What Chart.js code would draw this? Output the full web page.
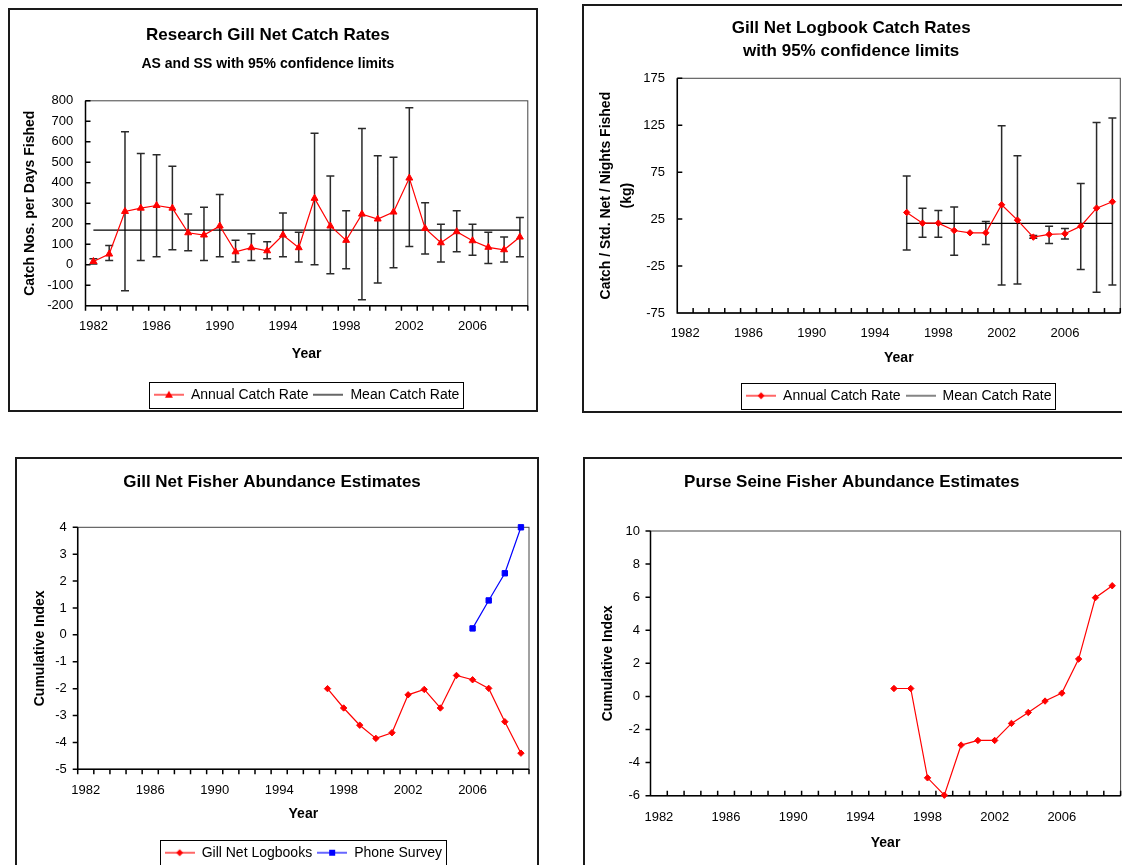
<!DOCTYPE html>
<html>
<head>
<meta charset="utf-8">
<script src="https://cdn.jsdelivr.net/npm/chart.js@4.4.1/dist/chart.umd.min.js"></script>
<style>
  body { margin: 0; background: #fff; width: 1122px; height: 865px; overflow: hidden; position: relative; }
  .panel { position: absolute; }
  .panel canvas { position: absolute; left: 0; top: 0; }
  .frame { position: absolute; left: 0; top: 0; right: 0; bottom: 0; border: 2px solid #1a1a1a; box-sizing: border-box; pointer-events: none; }
</style>
</head>
<body>
<div class="panel" style="left:8px;top:8px;width:530px;height:404px"><canvas id="c1" width="530" height="404"></canvas><div class="frame"></div></div>
<div class="panel" style="left:582px;top:4px;width:553px;height:409px"><canvas id="c2" width="553" height="409"></canvas><div class="frame"></div></div>
<div class="panel" style="left:15px;top:457px;width:524px;height:423px"><canvas id="c3" width="524" height="423"></canvas><div class="frame"></div></div>
<div class="panel" style="left:583px;top:457px;width:550px;height:423px"><canvas id="c4" width="550" height="423"></canvas><div class="frame"></div></div>
<script>
// category axis, shared by all four panels
const years = ['1982', '1983', '1984', '1985', '1986', '1987', '1988', '1989', '1990', '1991',
  '1992', '1993', '1994', '1995', '1996', '1997', '1998', '1999', '2000', '2001',
  '2002', '2003', '2004', '2005', '2006', '2007', '2008', '2009'];

// research gill net catch rates (all years)
const p1Rate = [16, 52, 260, 276, 289, 276, 156, 145, 189, 63, 83, 68, 145, 83,
  324, 189, 119, 247, 223, 257, 423, 177, 107, 161, 117, 85, 73, 135];
const p1Upper = [29, 94, 649, 543, 537, 481, 247, 280, 343, 119, 151, 112, 252, 159,
  642, 433, 263, 665, 532, 525, 766, 302, 197, 263, 197, 159, 135, 231];
const p1Lower = [3, 20, -127, 20, 39, 73, 68, 20, 39, 13, 20, 29, 39, 13,
  0, -44, -20, -171, -89, -15, 89, 52, 13, 63, 46, 6, 13, 39];
const p1Mean = 169;

// gill net logbook catch rates
const p2Years = ['1996', '1997', '1998', '1999', '2000', '2001', '2002', '2003', '2004', '2005', '2006', '2007', '2008', '2009'];
const p2Rate = [32.1, 20.7, 20.7, 12.9, 10.4, 10.4, 40.3, 23.9, 5.8, 8.7, 9.4, 17.5, 36.7, 43.5];
const p2Upper = [70.8, 36.7, 34.2, 37.8, null, 22.5, 124.4, 92.5, 7.5, 17.5, 15.0, 63.0, 128.0, 132.6];
const p2Lower = [-8.0, 5.8, 5.8, -13.4, null, -2.0, -45.3, -44.2, 4.5, -0.9, 3.7, -28.6, -53.0, -45.3];
const p2Mean = 20.4;

// gill net fisher abundance
const p3LogYears = ['1997', '1998', '1999', '2000', '2001', '2002', '2003', '2004', '2005', '2006', '2007', '2008', '2009'];
const p3Logbooks = [-2.0, -2.72, -3.36, -3.85, -3.64, -2.23, -2.03, -2.72, -1.51, -1.67, -1.99, -3.23, -4.40];
const p3PhoneYears = ['2006', '2007', '2008', '2009'];
const p3Phone = [0.24, 1.28, 2.29, 4.0];

// purse seine fisher abundance
const p4Years = ['1996', '1997', '1998', '1999', '2000', '2001', '2002', '2003', '2004', '2005', '2006', '2007', '2008', '2009'];
const p4Purse = [0.48, 0.48, -4.92, -5.97, -2.94, -2.66, -2.66, -1.63, -0.97, -0.28, 0.2, 2.26, 5.97, 6.69];

const red = '#ff0000';
const blue = '#0000ff';

Chart.defaults.font.family = "'Liberation Sans', Arial, sans-serif";
Chart.defaults.font.size = 13;
Chart.defaults.color = '#000';

const pts = (xs, ys) => xs.map((x, i) => ({x: x, y: ys[i]}));

// plot box + tick marks (in or out)
const framePlugin = {
  id: 'frame',
  beforeDatasetsDraw(chart, args, opts) {
    const {ctx, chartArea: a, scales} = chart;
    const x = scales.x, y = scales.y;
    ctx.save();
    ctx.strokeStyle = '#444';
    ctx.lineWidth = 1;
    ctx.strokeRect(a.left, a.top, a.width, a.height);
    ctx.strokeStyle = '#000';
    ctx.lineWidth = 1.5;
    ctx.beginPath();
    ctx.moveTo(a.left, a.top);
    ctx.lineTo(a.left, a.bottom);
    ctx.lineTo(a.right, a.bottom);
    const n = x.getLabels().length;
    const xd = opts.xIn ? -5 : 5;
    for (let i = 0; i <= n; i++) {
      const px = x.getPixelForValue(i - 0.5);
      ctx.moveTo(px, a.bottom);
      ctx.lineTo(px, a.bottom + xd);
    }
    const yd = opts.yIn ? 5 : -5;
    y.ticks.forEach(t => {
      const py = y.getPixelForValue(t.value);
      ctx.moveTo(a.left, py);
      ctx.lineTo(a.left + yd, py);
    });
    ctx.stroke();
    ctx.restore();
  }
};

// 95% confidence limits
const errorBarsPlugin = {
  id: 'errorBars',
  beforeDatasetsDraw(chart, args, opts) {
    if (!opts.years) return;
    const {ctx, scales} = chart;
    ctx.save();
    ctx.strokeStyle = '#2a2a2a';
    ctx.lineWidth = 1.5;
    ctx.beginPath();
    opts.years.forEach((yr, i) => {
      if (opts.upper[i] == null) return;
      const px = scales.x.getPixelForValue(yr);
      const top = scales.y.getPixelForValue(opts.upper[i]);
      const bot = scales.y.getPixelForValue(opts.lower[i]);
      ctx.moveTo(px, top); ctx.lineTo(px, bot);
      ctx.moveTo(px - 4, top); ctx.lineTo(px + 4, top);
      ctx.moveTo(px - 4, bot); ctx.lineTo(px + 4, bot);
    });
    ctx.stroke();
    ctx.restore();
  }
};

// box round the legend
const legendBoxPlugin = {
  id: 'legendBox',
  afterDraw(chart) {
    const lg = chart.legend;
    if (!lg || !lg.options.display || !lg.legendHitBoxes || !lg.legendHitBoxes.length) return;
    const hb = lg.legendHitBoxes;
    const l = Math.min(...hb.map(h => h.left));
    const r = Math.max(...hb.map(h => h.left + h.width));
    const cy = hb[0].top + hb[0].height / 2;
    const ctx = chart.ctx;
    ctx.save();
    ctx.strokeStyle = '#000';
    ctx.lineWidth = 1;
    ctx.strokeRect(Math.round(l - 5) + 0.5, Math.round(cy - 13) + 0.5, Math.round(r - l + 9), 26);
    ctx.restore();
  }
};

Chart.register(framePlugin, errorBarsPlugin, legendBoxPlugin);

function legendIcon(color, marker) {
  const c = document.createElement('canvas');
  c.width = 30; c.height = 12;
  const g = c.getContext('2d');
  g.strokeStyle = color; g.fillStyle = color; g.lineWidth = 1.2;
  g.beginPath(); g.moveTo(0, 6); g.lineTo(30, 6); g.stroke();
  g.beginPath();
  if (marker === 'triangle') { g.moveTo(15, 2); g.lineTo(19, 9); g.lineTo(11, 9); g.closePath(); }
  if (marker === 'diamond') { g.moveTo(15, 2.5); g.lineTo(18.5, 6); g.lineTo(15, 9.5); g.lineTo(11.5, 6); g.closePath(); }
  if (marker === 'square') { g.rect(12, 3, 6, 6); }
  g.fill();
  return c;
}

function item(text, color, marker) {
  return {text: text, pointStyle: legendIcon(color, marker), fillStyle: color, strokeStyle: color,
    lineWidth: 0, hidden: false, fontColor: '#000'};
}

// pad: gap axis -> labels, height: whole axis block, tBottom: gap under "Year"
function xAxis(pad, height, tBottom) {
  return {
    type: 'category',
    offset: true,
    grid: {display: false, drawTicks: false, tickLength: 0, offset: true},
    border: {display: false},
    ticks: {
      autoSkip: false, maxRotation: 0, minRotation: 0, padding: pad, font: {size: 13},
      callback: function (v, i) { return i % 4 === 0 ? this.getLabelForValue(v) : ''; }
    },
    title: {display: true, text: 'Year', font: {size: 14, weight: 'bold'}, padding: {top: 0, bottom: tBottom}},
    afterFit: s => { s.height = height; }
  };
}

function yAxis(min, max, step, title, lh, tTop, pad, width) {
  return {
    min: min, max: max,
    grid: {display: false, drawTicks: false, tickLength: 0},
    border: {display: false},
    ticks: {stepSize: step, padding: pad, font: {size: 13}},
    title: {display: true, text: title, font: {size: 14, weight: 'bold', lineHeight: lh}, padding: {top: tTop, bottom: 0}},
    afterFit: s => { s.width = width; }
  };
}

function legendOpts(items) {
  return {
    display: true, position: 'bottom', fullSize: false,
    labels: {usePointStyle: true, pointStyleWidth: 30, padding: 5, font: {size: 14}, color: '#000',
      generateLabels: () => items}
  };
}

const base = {responsive: false, animation: false, devicePixelRatio: 1, events: []};

// panel 1
new Chart(document.getElementById('c1'), {
  type: 'line',
  data: {
    labels: years,
    datasets: [
      {label: 'Annual Catch Rate', data: pts(years, p1Rate), borderColor: red, backgroundColor: red,
        borderWidth: 1.2, pointStyle: 'triangle', pointRadius: 4, pointBorderWidth: 1, order: 1, clip: false},
      {label: 'Mean Catch Rate', data: pts([years[0], years[years.length - 1]], [p1Mean, p1Mean]),
        borderColor: '#000', borderWidth: 1.3, pointRadius: 0, order: 2, clip: false}
    ]
  },
  options: Object.assign({}, base, {
    layout: {padding: {right: 10.2, bottom: 0.3}},
    scales: {
      x: xAxis(13.2, 77, 20.3),
      y: yAxis(-200, 800, 100, 'Catch Nos. per Days Fished', 1.2, 13.6, 12.2, 77.5)
    },
    plugins: {
      title: {display: true, text: 'Research Gill Net Catch Rates', font: {size: 17, weight: 'bold'}, padding: {top: 16.8, bottom: 0}},
      subtitle: {display: true, text: 'AS and SS with 95% confidence limits', color: '#000', font: {size: 14, weight: 'bold'}, padding: {top: 10.4, bottom: 28.4}},
      legend: legendOpts([item('Annual Catch Rate', red, 'triangle'), item('Mean Catch Rate', '#000', null)]),
      tooltip: {enabled: false},
      frame: {xIn: false, yIn: true},
      errorBars: {years: years, upper: p1Upper, lower: p1Lower}
    }
  })
});

// panel 2
new Chart(document.getElementById('c2'), {
  type: 'line',
  data: {
    labels: years,
    datasets: [
      {label: 'Annual Catch Rate', data: pts(p2Years, p2Rate), borderColor: red, backgroundColor: red,
        borderWidth: 1.2, pointStyle: 'rectRot', pointRadius: 3.2, pointBorderWidth: 1, order: 1, clip: false},
      {label: 'Mean Catch Rate', data: pts([p2Years[0], p2Years[p2Years.length - 1]], [p2Mean, p2Mean]),
        borderColor: '#000', borderWidth: 1.3, pointRadius: 0, order: 2, clip: false}
    ]
  },
  options: Object.assign({}, base, {
    layout: {padding: {right: 14.7, bottom: 0.3}},
    scales: {
      x: xAxis(12.5, 70.7, 17),
      y: yAxis(-75, 175, 50, ['Catch / Std. Net / Nights Fished', '(kg)'], 1.5, 13.5, 12.3, 95.3)
    },
    plugins: {
      title: {display: true, text: ['Gill Net Logbook Catch Rates', 'with 95% confidence limits'],
        font: {size: 17, weight: 'bold', lineHeight: 1.376}, padding: {top: 12.6, bottom: 14.9}},
      legend: legendOpts([item('Annual Catch Rate', red, 'diamond'), item('Mean Catch Rate', '#333', null)]),
      tooltip: {enabled: false},
      frame: {xIn: true, yIn: true},
      errorBars: {years: p2Years, upper: p2Upper, lower: p2Lower}
    }
  })
});

// panel 3
new Chart(document.getElementById('c3'), {
  type: 'line',
  data: {
    labels: years,
    datasets: [
      {label: 'Gill Net Logbooks', data: pts(p3LogYears, p3Logbooks), borderColor: red, backgroundColor: red,
        borderWidth: 1.2, pointStyle: 'rectRot', pointRadius: 3.2, pointBorderWidth: 1, clip: false},
      {label: 'Phone Survey', data: pts(p3PhoneYears, p3Phone), borderColor: blue, backgroundColor: blue,
        borderWidth: 1.2, pointStyle: 'rect', pointRadius: 3.8, pointBorderWidth: 1, clip: false}
    ]
  },
  options: Object.assign({}, base, {
    layout: {padding: {right: 10, bottom: 10.3}},
    scales: {
      x: xAxis(12.9, 71.4, 18.3),
      y: yAxis(-5, 4, 1, 'Cumulative Index', 1.2, 16.6, 11, 62.7)
    },
    plugins: {
      title: {display: true, text: 'Gill Net Fisher Abundance Estimates', font: {size: 17, weight: 'bold'}, padding: {top: 14.8, bottom: 35.1}},
      legend: legendOpts([item('Gill Net Logbooks', red, 'diamond'), item('Phone Survey', blue, 'square')]),
      tooltip: {enabled: false},
      frame: {xIn: false, yIn: false}
    }
  })
});

// panel 4
new Chart(document.getElementById('c4'), {
  type: 'line',
  data: {
    labels: years,
    datasets: [
      {label: 'Purse Seine', data: pts(p4Years, p4Purse), borderColor: red, backgroundColor: red,
        borderWidth: 1.2, pointStyle: 'rectRot', pointRadius: 3.2, pointBorderWidth: 1, clip: false}
    ]
  },
  options: Object.assign({}, base, {
    layout: {padding: {right: 12.4, bottom: 18.9}},
    scales: {
      x: xAxis(13.8, 65.4, 10),
      y: yAxis(-6, 10, 2, 'Cumulative Index', 1.2, 16.6, 10.5, 67.5)
    },
    plugins: {
      title: {display: true, text: 'Purse Seine Fisher Abundance Estimates', font: {size: 17, weight: 'bold'}, padding: {top: 14.8, bottom: 38.8}},
      legend: {display: false},
      tooltip: {enabled: false},
      frame: {xIn: true, yIn: false}
    }
  })
});
</script>
</body>
</html>
